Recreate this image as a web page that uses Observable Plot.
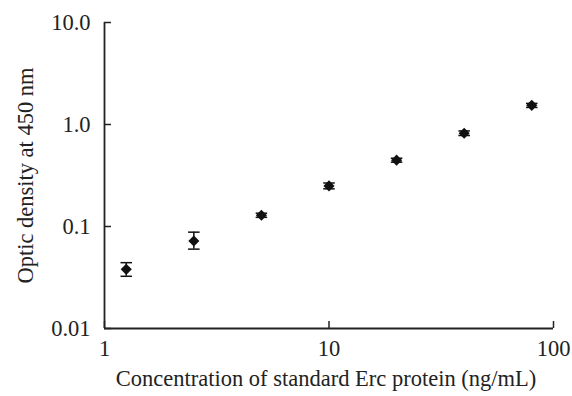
<!DOCTYPE html>
<html>
<head>
<meta charset="utf-8">
<script src="https://cdn.jsdelivr.net/npm/d3@7"></script>
<script src="https://cdn.jsdelivr.net/npm/@observablehq/plot@0.6"></script>
<style>
  html, body { margin: 0; padding: 0; background: #fff; }
  svg { display: block; }
</style>
</head>
<body>
<div id="chart"></div>
<script>
const concentrations = [1.25, 2.5, 5, 10, 20, 40, 80];
const opticDensity = [0.038, 0.072, 0.129, 0.250, 0.447, 0.822, 1.54];
const errLow = [0.0325, 0.060, 0.123, 0.234, 0.427, 0.78, 1.47];
const errHigh = [0.0442, 0.088, 0.135, 0.267, 0.467, 0.865, 1.61];

const xTicks = [1, 10, 100];
const xTickLabels = ["1", "10", "100"];
const yTicks = [0.01, 0.1, 1, 10];
const yTickLabels = ["0.01", "0.1", "1.0", "10.0"];

const xTitle = "Concentration of standard Erc protein (ng/mL)";
const yTitle = "Optic density at 450 nm";

const data = concentrations.map((c, i) => ({
  x: c, y: opticDensity[i], lo: errLow[i], hi: errHigh[i]
}));

const capSymbol = {
  draw(context, size) {
    const w = Math.sqrt(size) / 2;
    context.moveTo(-w, 0);
    context.lineTo(w, 0);
  }
};

const FS = 22.5;
const ink = "#222";

const chart = Plot.plot({
  width: 572,
  height: 396,
  marginLeft: 104,
  marginRight: 19,
  marginTop: 22,
  marginBottom: 68,
  style: {fontFamily: "'Liberation Serif', 'Times New Roman', serif", fontSize: FS + "px", color: ink, background: "#fff"},
  x: {type: "log", domain: [1, 100], axis: null},
  y: {type: "log", domain: [0.01, 10], axis: null},
  marks: [
    // inward tick marks
    Plot.axisX(xTicks, {tickSize: -7, text: null, strokeWidth: 1.5, stroke: ink, label: null}),
    Plot.axisY(yTicks, {tickSize: -7, text: null, strokeWidth: 1.5, stroke: ink, label: null}),
    // axis lines
    Plot.ruleX([1], {stroke: ink, strokeWidth: 1.8}),
    Plot.ruleY([0.01], {stroke: ink, strokeWidth: 1.8}),
    // tick labels
    Plot.text(xTicks, {x: (d) => d, frameAnchor: "bottom", dy: 20, text: (d, i) => xTickLabels[i], fontSize: FS, fill: ink, lineAnchor: "middle", textAnchor: "middle"}),
    Plot.text(yTicks, {y: (d) => d, frameAnchor: "left", dx: -14, textAnchor: "end", text: (d, i) => yTickLabels[i], fontSize: FS, fill: ink, lineAnchor: "middle"}),
    // axis titles
    Plot.text([xTitle], {frameAnchor: "bottom", dx: -3, dy: 50, text: (d) => d, fontSize: FS, fill: ink, lineAnchor: "middle", textAnchor: "middle"}),
    Plot.text([yTitle], {frameAnchor: "left", dx: -79, rotate: -90, text: (d) => d, fontSize: FS, fill: ink, lineAnchor: "middle", textAnchor: "middle"}),
    // error bars
    Plot.ruleX(data, {x: "x", y1: "lo", y2: "hi", stroke: "#111", strokeWidth: 1.5}),
    Plot.dot(data, {x: "x", y: "lo", symbol: capSymbol, r: 6.5, stroke: "#111", strokeWidth: 1.5, fill: "none"}),
    Plot.dot(data, {x: "x", y: "hi", symbol: capSymbol, r: 6.5, stroke: "#111", strokeWidth: 1.5, fill: "none"}),
    // points
    Plot.dot(data, {x: "x", y: "y", symbol: "diamond2", r: 5, fill: "#111", stroke: "none"})
  ]
});
document.getElementById("chart").appendChild(chart);
</script>
</body>
</html>
